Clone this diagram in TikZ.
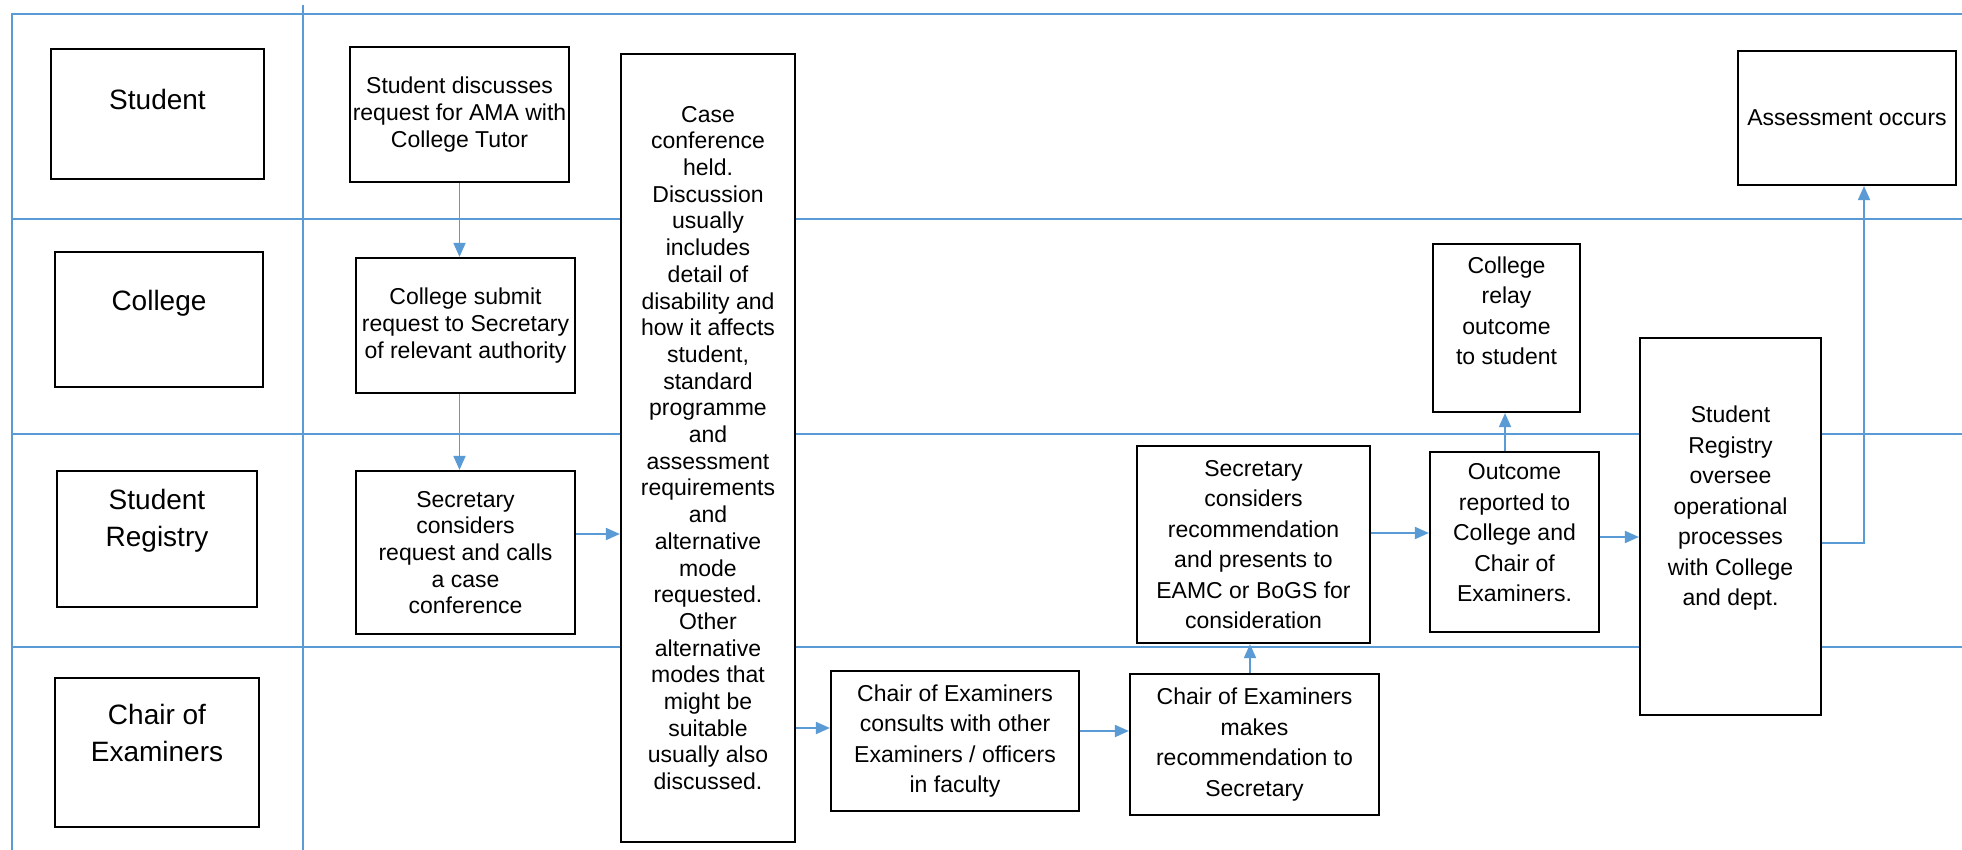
\documentclass[tikz,border=0pt]{standalone}
\usepackage{fontspec}
\setmainfont{Liberation Sans}
\usetikzlibrary{arrows.meta}
\definecolor{lane}{HTML}{5B9BD5}
\begin{document}
\begin{tikzpicture}[x=1pt,y=-1pt,
  grid/.style={draw=lane, line width=2pt},
  arr/.style={draw=lane, line width=1.8pt, -{Triangle[length=14pt,width=12pt]}},
  box/.style={draw=black, line width=2.2pt, fill=white, inner xsep=2pt, inner ysep=0pt, align=center, font=\fontsize{23}{26.7}\selectfont},
  rbox/.style={box, font=\fontsize{23}{30.5}\selectfont},
  lanebox/.style={draw=black, line width=2.2pt, fill=white, inner sep=0pt},
  lanetext/.style={align=center, font=\fontsize{28}{36.5}\selectfont, inner sep=0pt},
  rtext/.style={align=center, font=\fontsize{23}{30.5}\selectfont, inner sep=0pt},
]
\fill[white] (0,0) rectangle (1962,850);
\useasboundingbox (0,0) rectangle (1962,850);

% swimlane grid
\coordinate (g1) at (11,14);   \coordinate (g2) at (1962,14);
\coordinate (g3) at (12,14);   \coordinate (g4) at (12,850);
\coordinate (g5) at (303,5);   \coordinate (g6) at (303,850);
\coordinate (l1a) at (12,219); \coordinate (l1b) at (1962,219);
\coordinate (l2a) at (12,434); \coordinate (l2b) at (1962,434);
\coordinate (l3a) at (12,647); \coordinate (l3b) at (1962,647);
\draw[grid] (g1) -- (g2);
\draw[grid] (g3) -- (g4);
\draw[grid] (g5) -- (g6);
\draw[grid] (l1a) -- (l1b);
\draw[grid] (l2a) -- (l2b);
\draw[grid] (l3a) -- (l3b);

% lane labels
\node[lanebox, minimum width=213, minimum height=130,
  label={[name=tStudent, lanetext, yshift=15]center:Student}] (lStudent) at (157.5,114) {};
\node[lanebox, minimum width=208, minimum height=135,
  label={[name=tCollege, lanetext, yshift=16.5]center:College}] (lCollege) at (159,319.5) {};
\node[lanebox, minimum width=200, minimum height=136,
  label={[name=tRegistry, lanetext, yshift=18]center:{Student\\Registry}}] (lRegistry) at (157,539) {};
\node[lanebox, minimum width=204, minimum height=149,
  label={[name=tChair, lanetext, yshift=19.5]center:{Chair of\\Examiners}}] (lChair) at (157,752.5) {};

% process boxes
\node[box, minimum width=219, minimum height=135] (discuss) at (459.5,114.5)
  {Student discusses\\request for AMA with\\College Tutor};
\node[box, minimum width=219, minimum height=135] (submit) at (465.5,325.5)
  {College submit\\request to Secretary\\of relevant authority};
\node[box, minimum width=219, minimum height=163] (seccall) at (465.5,552.5)
  {Secretary\\considers\\request and calls\\a case\\conference};
\node[box, minimum width=174, minimum height=788] (case) at (708,448)
  {Case\\conference\\held.\\Discussion\\usually\\includes\\detail of\\disability and\\how it affects\\student,\\standard\\programme\\and\\assessment\\requirements\\and\\alternative\\mode\\requested.\\Other\\alternative\\modes that\\might be\\suitable\\usually also\\discussed.};
\node[rbox, minimum width=248, minimum height=140] (consult) at (955,741)
  {Chair of Examiners\\consults with other\\Examiners / officers\\in faculty};
\node[rbox, minimum width=249, minimum height=141] (makes) at (1254.5,744.5)
  {Chair of Examiners\\makes\\recommendation to\\Secretary};
\node[rbox, minimum width=233, minimum height=197] (secrec) at (1253.5,544.5)
  {Secretary\\considers\\recommendation\\and presents to\\EAMC or BoGS for\\consideration};
\node[lanebox, minimum width=169, minimum height=180,
  label={[name=tOutcome, rtext, yshift=9]center:{Outcome\\reported to\\College and\\Chair of\\Examiners.}}] (outcome) at (1514.5,542) {};
\node[lanebox, minimum width=147, minimum height=168,
  label={[name=tRelay, rtext, yshift=17]center:{College\\relay\\outcome\\to student}}] (relay) at (1506.5,328) {};
\node[lanebox, minimum width=181, minimum height=377,
  label={[name=tOversee, rtext, yshift=18]center:{Student\\Registry\\oversee\\operational\\processes\\with College\\and dept.}}] (oversee) at (1730.5,526.5) {};
\node[box, minimum width=218, minimum height=134] (assess) at (1847,118)
  {Assessment occurs};

% connectors
\draw[arr] (discuss.south) -- (discuss.south |- submit.north);
\draw[arr] (submit.south -| discuss.south) -- (discuss.south |- seccall.north);
\draw[arr] (seccall.east |- 0,534) -- (case.west |- 0,534);
\draw[arr] (case.east |- 0,728) -- (consult.west |- 0,728);
\draw[arr] (consult.east |- 0,731) -- (makes.west |- 0,731);
\draw[arr] (makes.north -| 1250,0) -- (secrec.south -| 1250,0);
\draw[arr] (secrec.east |- 0,533) -- (outcome.west |- 0,533);
\draw[arr] (outcome.east |- 0,537) -- (oversee.west |- 0,537);
\draw[arr] (outcome.north -| 1505,0) -- (relay.south -| 1505,0);
\coordinate (corner) at (1864,543);
\draw[arr] (oversee.east |- corner) -- (corner) -- (corner |- assess.south);
\end{tikzpicture}
\end{document}
